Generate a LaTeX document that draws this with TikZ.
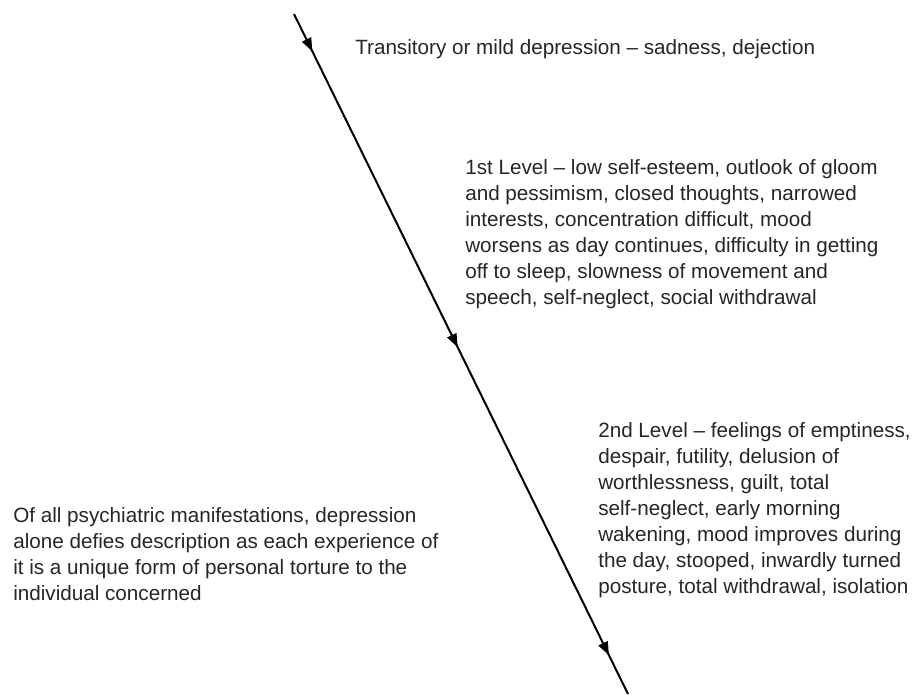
\documentclass[tikz,border=0pt]{standalone}
\usepackage{fontspec}
\setmainfont{Liberation Sans}
\usepackage{tikz}
\usetikzlibrary{arrows.meta, positioning, decorations.markings}

\begin{document}
\begin{tikzpicture}[
        x=0.75pt, y=-0.75pt,
        stage/.style={anchor=north west, align=left, inner sep=0pt, text=black!85,
            font=\fontsize{15.5}{19.5}\selectfont},
        course/.style={line width=1.5pt, postaction={decorate},
            decoration={markings,
                mark=at position 0.055 with {\arrow{Triangle[length=10pt, width=7.5pt]}},
                mark=at position 0.49 with {\arrow{Triangle[length=10pt, width=7.5pt]}},
                mark=at position 0.943 with {\arrow{Triangle[length=10pt, width=7.5pt]}}}}
    ]
        \useasboundingbox (0,0) rectangle (913,694);

        % Downward course
        \coordinate (top) at (294,14);
        \coordinate (bottom) at (628,694);
        \draw[course] (top) -- (bottom);

        % Stages along the course
        \node[stage] (mild) at (355,39) {Transitory or mild depression -- sadness, dejection};
        \node[stage] (level1) at (465,159) {1st Level -- low self-esteem, outlook of gloom\\
            and pessimism, closed thoughts, narrowed\\
            interests, concentration difficult, mood\\
            worsens as day continues, difficulty in getting\\
            off to sleep, slowness of movement and\\
            speech, self-neglect, social withdrawal};
        \node[stage] (level2) at (598,422) {2nd Level -- feelings of emptiness,\\
            despair, futility, delusion of\\
            worthlessness, guilt, total\\
            self-neglect, early morning\\
            wakening, mood improves during\\
            the day, stooped, inwardly turned\\
            posture, total withdrawal, isolation};

        % Remark
        \node[stage] (remark) at (13,507) {Of all psychiatric manifestations, depression\\
            alone defies description as each experience of\\
            it is a unique form of personal torture to the\\
            individual concerned};
    \end{tikzpicture}
\end{document}
